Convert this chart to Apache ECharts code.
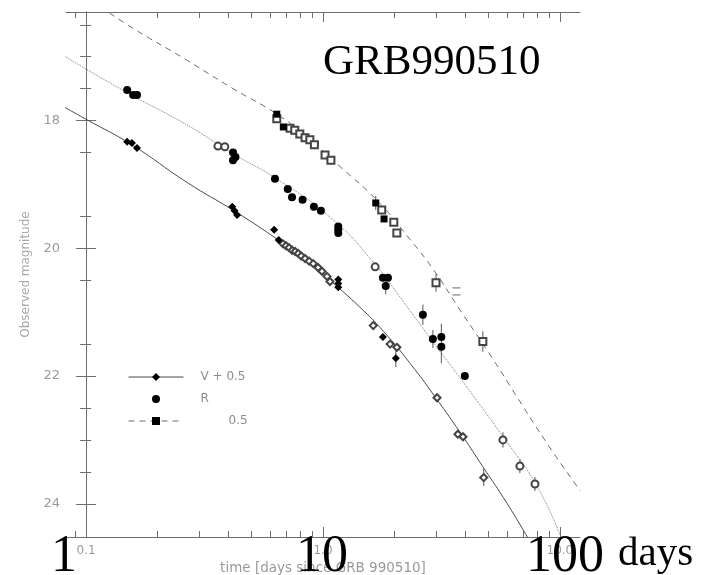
<!DOCTYPE html>
<html>
<head>
<meta charset="utf-8">
<script src="https://cdn.jsdelivr.net/npm/echarts@6/dist/echarts.min.js"></script>
<style>
  html, body { margin: 0; background: #fff; }
  #chart { width: 710px; height: 575px; }
</style>
</head>
<body>
<div id="chart"></div>
<script>
// model curves [days, mag]
const vCurve = [[0.8,17.78],[1.0,17.98],[1.56,18.38],[2.67,18.97],[4.2,19.41],[6.2,19.82],[8.5,20.18],[10.7,20.5],[14.3,20.92],[18,21.3],[23.3,21.8],[31,22.42],[39,22.95],[47.3,23.42],[60,24.0],[75,24.6]];
const rCurve = [[0.8,16.98],[1.5,17.57],[2.67,18.07],[4.17,18.52],[6.3,18.9],[11,19.55],[16.6,20.25],[21,20.75],[31,21.6],[41,22.2],[57.5,22.95],[80,23.72],[102,24.56]];
const iCurve = [[1.15,16.22],[1.6,16.57],[2.57,17.02],[4.17,17.5],[6.4,17.9],[8.5,18.25],[11.8,18.72],[16.9,19.25],[23.4,19.87],[29.2,20.33],[37.8,20.96],[52.3,21.74],[65.7,22.32],[90,23.1],[122,23.8]];

// measurements [days, mag]
const vFilled = [[1.49,18.33],[1.56,18.35],[1.64,18.43],[4.14,19.35],[4.23,19.41],[4.34,19.48],[6.22,19.71],[6.5,19.87],[11.6,20.49],[11.6,20.55],[11.6,20.61],[17.9,21.39],[20.3,21.72]];
const vOpen = [[6.78,19.93],[6.98,19.96],[7.19,19.99],[7.41,20.03],[7.63,20.05],[7.86,20.08],[8.09,20.12],[8.4,20.16],[8.74,20.2],[9.1,20.24],[9.53,20.3],[9.9,20.36],[10.4,20.44],[10.7,20.52],[16.3,21.21],[19.2,21.5],[20.5,21.55],[30.3,22.34],[37.1,22.91],[39,22.95],[47.7,23.59]];
const rFilled = [[1.49,17.52],[1.58,17.6],[1.64,17.6],[4.17,18.5],[4.27,18.57],[4.17,18.62],[6.27,18.91],[7.1,19.07],[7.4,19.2],[8.2,19.24],[9.15,19.35],[9.8,19.41],[11.6,19.66],[11.6,19.71],[11.6,19.76],[17.9,20.46],[18.8,20.46],[18.4,20.59],[26.4,21.04],[29.1,21.42],[31.6,21.39],[31.6,21.54],[39.7,22.0]];
const rOpen = [[3.6,18.4],[3.85,18.41],[16.6,20.29],[57.5,23.0],[67.8,23.41],[78.5,23.69]];
const iFilled = [[6.38,17.9],[6.8,18.1],[16.7,19.29],[18.1,19.54]];
const iOpen = [[6.38,17.97],[7.26,18.12],[7.6,18.15],[7.98,18.21],[8.4,18.27],[8.8,18.3],[9.2,18.38],[10.2,18.54],[10.8,18.62],[17.7,19.4],[19.9,19.59],[20.5,19.76],[30,20.54],[47.3,21.46]];
const iMarks = [[36.6,20.62],[36.6,20.73]];
// [days, mag low, mag high]
const errorBars = [[26.4,20.88,21.2],[29.1,21.28,21.56],[31.6,21.18,21.8],[20.3,21.6,21.86],[18.4,20.42,20.72],[30,20.4,20.68],[47.3,21.3,21.62],[57.5,22.88,23.12],[67.8,23.3,23.52],[78.5,23.58,23.8],[47.7,23.45,23.72],[16.7,19.18,19.4]];

const xMajor = [1, 10, 100];
const xMinor = [0.9, 2, 3, 4, 5, 6, 7, 8, 9, 20, 30, 40, 50, 60, 70, 80, 90];
const xTickText = ['0.1', '1.0', '10.0'];
const yMajor = [18, 20, 22, 24];
const yMinor = [16.5, 17, 17.5, 18.5, 19.5, 20.5, 21.5, 22.5, 23, 23.5];

const legendNames = ['V + 0.5', 'R', 'I - 0.5'];
const legendShown = ['V + 0.5', 'R', '0.5'];

const lg = t => Math.log10(t);
const toXY = arr => arr.map(p => [lg(p[0]), p[1]]);

const AXIS = '#6e6e6e';
const LABEL = '#9a9a9a';
const XMIN = -0.085, XMAX = 2.085;
const YMIN = 16.3, YMAX = 24.52;

function xAx(position, ticks, len, withLine) {
    return {
        type: 'value', position: position, min: XMIN, max: XMAX,
        axisLine: { show: withLine, lineStyle: { color: AXIS, width: 1 } },
        axisTick: { show: true, inside: true, length: len, customValues: ticks.map(lg), lineStyle: { color: AXIS } },
        axisLabel: { show: false },
        splitLine: { show: false }
    };
}
function yAx(position, ticks, len, withLine) {
    return {
        type: 'value', position: position, inverse: true, min: YMIN, max: YMAX,
        axisLine: { show: withLine, lineStyle: { color: AXIS, width: 1 } },
        axisTick: { show: true, inside: true, length: len, customValues: ticks, lineStyle: { color: AXIS } },
        axisLabel: { show: false },
        splitLine: { show: false }
    };
}

const xBottom = xAx('bottom', xMinor, 6, true);
xBottom.axisLabel = {
    show: true, customValues: xMajor.map(lg), margin: 8,
    color: LABEL, fontSize: 12, fontFamily: 'DejaVu Sans',
    formatter: v => xTickText[Math.round(v)]
};
xBottom.name = 'time [days since GRB 990510]';
xBottom.nameLocation = 'middle';
xBottom.nameGap = 23;
xBottom.nameTextStyle = { color: LABEL, fontSize: 13.5, fontFamily: 'DejaVu Sans' };

const yLeft = yAx('left', yMinor, 5, true);
yLeft.axisLabel = {
    show: true, customValues: yMajor, margin: 6,
    color: LABEL, fontSize: 13, fontFamily: 'DejaVu Sans'
};
yLeft.name = 'Observed magnitude';
yLeft.nameLocation = 'middle';
yLeft.nameGap = 34;
yLeft.nameTextStyle = { color: '#a8a8a8', fontSize: 12, fontFamily: 'DejaVu Sans' };

function scatter(data, symbol, size, color) {
    return {
        type: 'scatter', data: toXY(data), symbol: symbol, symbolSize: size,
        itemStyle: { color: color, borderWidth: 1, opacity: 1 }, z: 5, silent: true
    };
}

const chart = echarts.init(document.getElementById('chart'));
chart.setOption({
    animation: false,
    backgroundColor: '#fff',
    grid: { left: 66, right: 130, top: 12, bottom: 38, outerBoundsMode: 'none', containLabel: false },
    xAxis: [xBottom, xAx('bottom', xMajor, 10, false), xAx('top', xMinor, 6, true), xAx('top', xMajor, 10, false)],
    yAxis: [yLeft, yAx('left', yMajor, 10, false), yAx('right', yMinor, 6, true), yAx('right', yMajor, 10, false)],
    legend: {
        orient: 'vertical', left: 128, top: 371, padding: 0,
        itemWidth: 55, itemHeight: 10, itemGap: 10,
        selectedMode: false,
        lineStyle: { width: 1 },
        textStyle: { color: '#8c8c8c', fontSize: 12, fontFamily: 'DejaVu Sans', padding: [0, 0, 6, 12] },
        data: [
            { name: legendNames[0] },
            { name: legendNames[1], lineStyle: { width: 0 } },
            { name: legendNames[2], textStyle: { padding: [0, 0, 6, 40] } }
        ],
        formatter: name => legendShown[legendNames.indexOf(name)]
    },
    series: [
        { name: legendNames[0], type: 'line', data: toXY(vCurve), smooth: true, symbol: 'diamond', showSymbol: false,
          lineStyle: { color: '#4a4a4a', width: 1 }, itemStyle: { color: '#000' }, z: 2, silent: true },
        { name: legendNames[1], type: 'line', data: toXY(rCurve), smooth: true, symbol: 'circle', showSymbol: false,
          lineStyle: { color: '#7a7a7a', width: 1, type: 'dotted' }, itemStyle: { color: '#000' }, z: 2, silent: true },
        { name: legendNames[2], type: 'line', data: toXY(iCurve), smooth: true, symbol: 'rect', showSymbol: false,
          lineStyle: { color: '#6a6a6a', width: 1, type: [6, 5] }, itemStyle: { color: '#000' }, z: 2, silent: true },
        {
            type: 'custom', silent: true, z: 4,
            data: errorBars.map(e => [lg(e[0]), e[1], e[2]]),
            encode: { x: 0, y: [1, 2] },
            renderItem: (params, api) => {
                const a = api.coord([api.value(0), api.value(1)]);
                const b = api.coord([api.value(0), api.value(2)]);
                return { type: 'line', shape: { x1: a[0], y1: a[1], x2: b[0], y2: b[1] }, style: { stroke: '#555', lineWidth: 1 } };
            }
        },
        scatter(vOpen, 'emptyDiamond', 7, '#444'),
        scatter(rOpen, 'emptyCircle', 7, '#444'),
        scatter(iOpen, 'emptyRect', 7, '#444'),
        scatter(vFilled, 'diamond', 8, '#000'),
        scatter(rFilled, 'circle', 8, '#000'),
        scatter(iFilled, 'rect', 7, '#000'),
        scatter(iMarks, 'rect', [8, 1], '#666')
    ],
    graphic: [
        { type: 'text', x: 323, y: 41, z: 100, silent: true,
          style: { text: 'GRB990510', fill: '#000', font: '43px "Liberation Serif"', align: 'left', verticalAlign: 'top' } },
        { type: 'text', x: 51, y: 531, z: 100, silent: true,
          style: { text: '1', fill: '#000', font: '52px "Liberation Serif"', align: 'left', verticalAlign: 'top' } },
        { type: 'text', x: 296, y: 531, z: 100, silent: true,
          style: { text: '10', fill: '#000', font: '52px "Liberation Serif"', align: 'left', verticalAlign: 'top' } },
        { type: 'text', x: 526, y: 531, z: 100, silent: true,
          style: { text: '100', fill: '#000', font: '52px "Liberation Serif"', align: 'left', verticalAlign: 'top' } },
        { type: 'text', x: 618, y: 534, z: 100, silent: true,
          style: { text: 'days', fill: '#000', font: '41px "Liberation Serif"', align: 'left', verticalAlign: 'top' } }
    ]
});
</script>
</body>
</html>
